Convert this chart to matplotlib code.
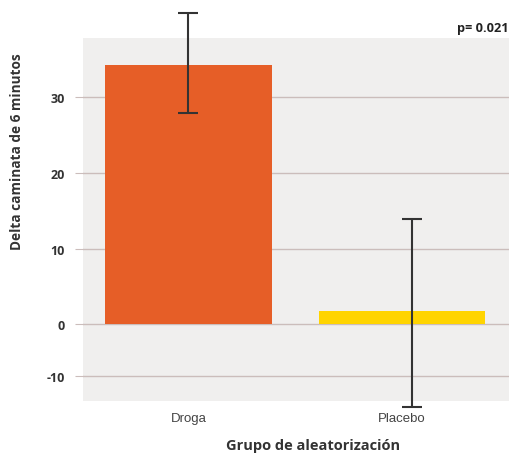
import matplotlib
matplotlib.use("Agg")
import matplotlib.pyplot as plt
import numpy as np

# data
groups = ["Droga", "Placebo"]
means = [34.2, 1.7]
err_low = [27.9, -16.0]
err_high = [41.1, 13.9]
err_shift = [0.0, 0.045]
bar_colors = ["#E65E27", "#FFD400"]
y_ticks = [-10, 0, 10, 20, 30]
p_text = "p= 0.021"

plt.rcParams["font.family"] = ["Open Sans", "DejaVu Sans"]

# the source chart compresses the negative part of the axis
NEG = 0.684


def fwd(y):
    y = np.asarray(y, dtype=float)
    return np.where(y >= 0, y, y * NEG)


def inv(y):
    y = np.asarray(y, dtype=float)
    return np.where(y >= 0, y, y / NEG)


fig = plt.figure(figsize=(5.1, 4.6), dpi=100)
ax = fig.add_axes([0.1627, 0.126, 0.835, 0.789])
ax.set_facecolor("#F0EFEE")
ax.set_yscale("function", functions=(fwd, inv))

x = np.arange(len(groups))
ax.bar(x, means, width=0.78, color=bar_colors, zorder=2)

means_arr = np.array(means)
yerr = [means_arr - np.array(err_low), np.array(err_high) - means_arr]
ax.errorbar(x + np.array(err_shift), means, yerr=yerr, fmt="none",
            ecolor="#333333", elinewidth=1.5, capsize=7.5, capthick=1.5,
            zorder=3, clip_on=False)

ax.set_xlim(-0.493, 1.5)
ax.set_ylim(-14.8, 37.8)
ax.set_yticks(y_ticks)
ax.set_yticklabels([str(t) for t in y_ticks], fontsize=9, fontweight="bold",
                   color="#333333")
ax.set_xticks(x)
ax.set_xticklabels(groups, fontsize=9.5, color="#444444",
                   family=["Liberation Sans", "DejaVu Sans"])

ax.grid(axis="y", color="#CBBDBB", linewidth=1.0, zorder=1)
ax.set_axisbelow(True)
ax.tick_params(axis="y", length=6, color="#CBBDBB", pad=7)
ax.tick_params(axis="x", length=0, pad=8)
for s in ax.spines.values():
    s.set_visible(False)

fig.text(0.033, 0.67, "Delta caminata de 6 minutos", rotation=90,
         ha="center", va="center", fontsize=9.8, fontweight="bold",
         color="#333333")
fig.text(0.614, 0.015, "Grupo de aleatorización", ha="center", va="bottom",
         fontsize=10.5, fontweight="bold", color="#333333")
fig.text(0.997, 0.938, p_text, ha="right", va="center", fontsize=9.2,
         fontweight="bold", color="#222222")

plt.savefig("out.png", dpi=100)
